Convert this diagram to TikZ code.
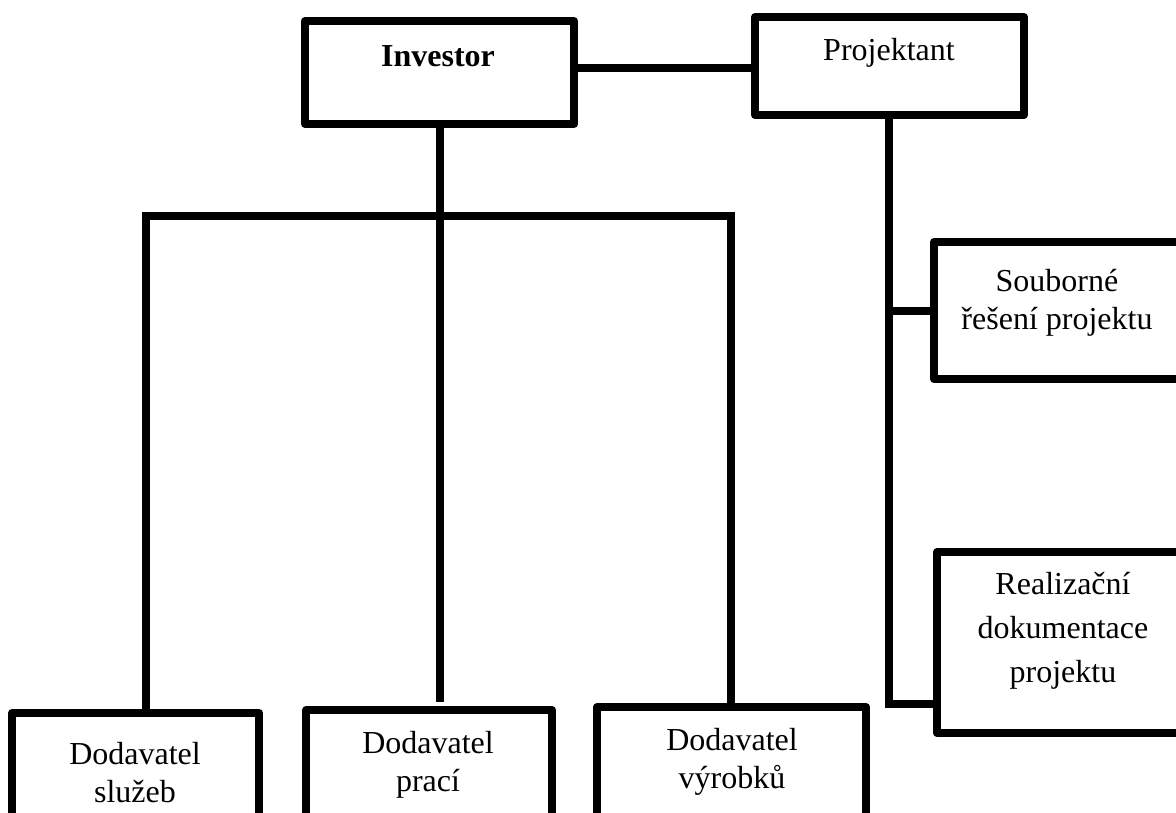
\documentclass[tikz,border=0pt]{standalone}
\usepackage{fontspec}
\setmainfont{Liberation Serif}
\begin{document}
\begin{tikzpicture}[x=1pt,y=-1pt,
  box/.style={draw=black,line width=8pt,line join=round,rectangle,inner sep=0pt,outer sep=0pt},
  wire/.style={draw=black,line width=8pt,line join=miter},
  lbl/.style={anchor=base,align=center,inner sep=0pt,font=\fontsize{32}{38}\selectfont},
  lbltall/.style={lbl,font=\fontsize{32}{44}\selectfont}]
\useasboundingbox (0,0) rectangle (1176,812);
\clip (0,0) rectangle (1176,812);

% boxes
\node[box,minimum width=269pt,minimum height=103pt] (inv)  at (439.5,72.5) {};
\node[box,minimum width=269pt,minimum height=98pt]  (proj) at (889.5,66) {};
\node[box,minimum width=266pt,minimum height=137pt] (soub) at (1067,310.5) {};
\node[box,minimum width=263pt,minimum height=181pt] (real) at (1068.5,642.5) {};
\node[box,minimum width=247pt,minimum height=137pt] (sluz) at (135.5,781.5) {};
\node[box,minimum width=246pt,minimum height=140pt] (prac) at (429,780) {};
\node[box,minimum width=269pt,minimum height=143pt] (vyr)  at (731.5,778.5) {};

% texts (base anchor = baseline of the last line)
\node[lbl] (tinv)  at (438,66)  {\textbf{Investor}};
\node[lbl] (tproj) at (889,60)  {Projektant};
\node[lbl] (tsoub) at (1057,329) {Souborné\\řešení projektu};
\node[lbltall] (treal) at (1063,682) {Realizační\\dokumentace\\projektu};
\node[lbl] (tsluz) at (135,802) {Dodavatel\\služeb};
\node[lbl] (tprac) at (428,791) {Dodavatel\\prací};
\node[lbl] (tvyr)  at (732,788) {Dodavatel\\výrobků};

% junction points
\coordinate (bl) at (146,216);
\coordinate (bm) at (440,216);
\coordinate (br) at (731,216);
\coordinate (pe) at (440,702);
\coordinate (j1) at (889,311);
\coordinate (j2) at (889,703.5);

% connectors
\draw[wire] ([yshift=4.5pt]inv.east) -- ([yshift=4.5pt]inv.east -| proj.west);
\draw[wire] (inv.south -| bm) -- (bm);
\draw[wire] (bl |- sluz.north) -- (bl) -- (br) -- (br |- vyr.north);
\draw[wire] (bm) -- (pe);
\draw[wire] (proj.south -| j1) -- (j1) -- (j1 -| soub.west);
\draw[wire] (j1) -- (j2) -- (j2 -| real.west);
\end{tikzpicture}
\end{document}
